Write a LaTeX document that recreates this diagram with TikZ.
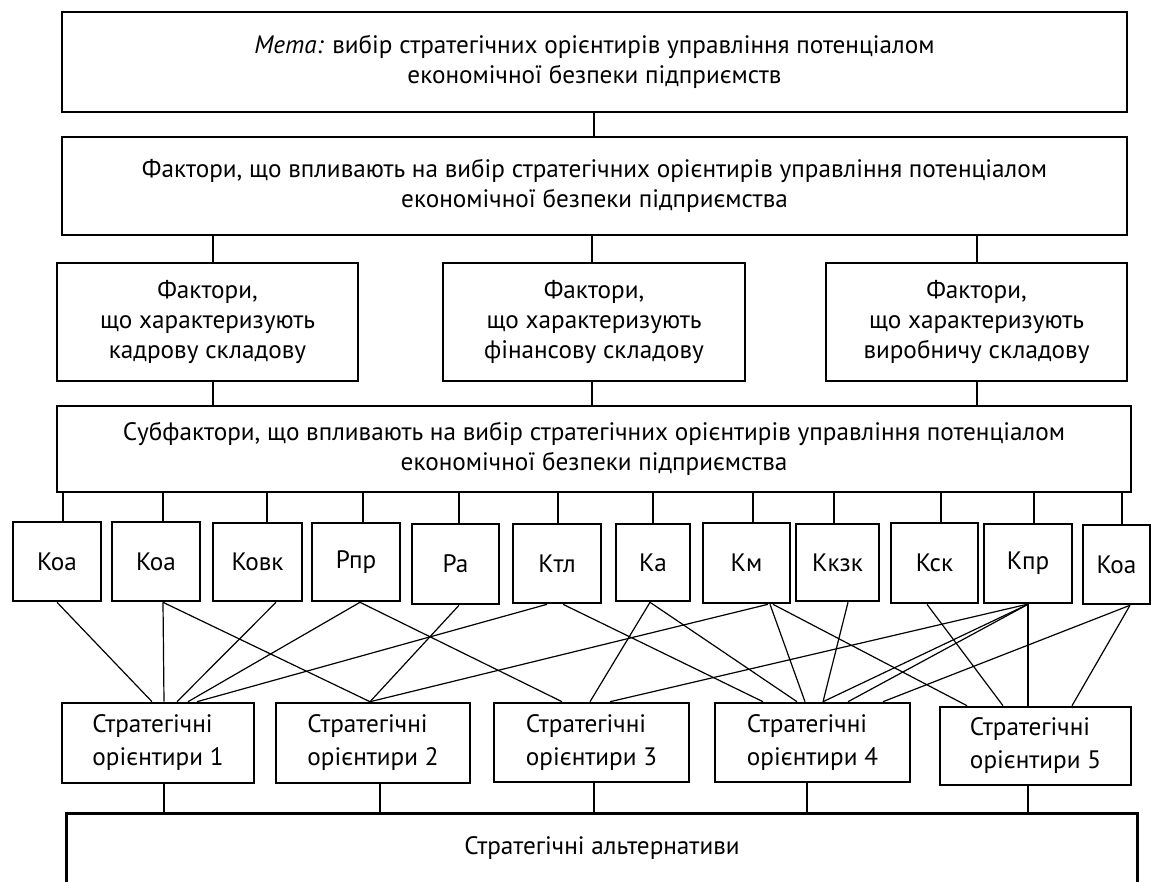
\documentclass[tikz,border=0pt]{standalone}
\usepackage{fontspec}
\setmainfont{PT Sans}
\begin{document}
\begin{tikzpicture}[x=1pt,y=-1pt,
  box/.style={draw, line width=2.6pt, inner sep=0pt, align=center, font=\fontsize{25.2}{30}\selectfont},
  sbox/.style={box, align=left, font=\fontsize{25.2}{33}\selectfont},
  link/.style={line width=1.2pt},
  boxline/.style={line width=2.6pt}]
\useasboundingbox (0,0) rectangle (1158,881);
% top boxes
\node[box, minimum width=1065pt, minimum height=100pt] (goal) at (594.5,62)
  {{\itshape Мета:} вибір стратегічних орієнтирів управління потенціалом\\економічної безпеки підприємств};
\node[box, minimum width=1065pt, minimum height=98pt] (fac) at (594.5,186)
  {Фактори, що впливають на вибір стратегічних орієнтирів управління потенціалом\\економічної безпеки підприємства};
\node[box, minimum width=301pt, minimum height=118pt] (fk) at (207.5,322)
  {Фактори,\\що характеризують\\кадрову складову};
\node[box, minimum width=302pt, minimum height=118pt] (ff) at (594,322)
  {Фактори,\\що характеризують\\фінансову складову};
\node[box, minimum width=301pt, minimum height=118pt] (fp) at (976.5,322)
  {Фактори,\\що характеризують\\виробничу складову};
\node[box, minimum width=1074pt, minimum height=86pt] (sub) at (594,449)
  {Субфактори, що впливають на вибір стратегічних орієнтирів управління потенціалом\\економічної безпеки підприємства};
% small boxes
\node[box, minimum width=88pt, minimum height=79pt] (kA) at (57,561.5) {Коа};
\node[box, minimum width=88pt, minimum height=79pt] (kB) at (156,561.5) {Коа};
\node[box, minimum width=89pt, minimum height=78pt] (kC) at (257.5,562) {Ковк};
\node[box, minimum width=88pt, minimum height=78pt] (kD) at (356,562) {Рпр};
\node[box, minimum width=87pt, minimum height=80pt] (kE) at (455.5,564) {Ра};
\node[box, minimum width=88pt, minimum height=79pt] (kF) at (557,563.5) {Ктл};
\node[box, minimum width=74pt, minimum height=77pt] (kG) at (653,562.5) {Ка};
\node[box, minimum width=87pt, minimum height=80pt] (kH) at (746.5,563) {Км};
\node[box, minimum width=83pt, minimum height=77pt] (kI) at (837.5,562.5) {Ккзк};
\node[box, minimum width=87pt, minimum height=80pt] (kJ) at (934.5,563) {Кск};
\node[box, minimum width=88pt, minimum height=79pt] (kK) at (1028,563.5) {Кпр};
\node[box, minimum width=67pt, minimum height=79pt] (kL) at (1116.5,564.5) {Коа};
% strategic boxes
\node[sbox, minimum width=192pt, minimum height=80pt] (s1) at (158,743) {Стратегічні\\орієнтири 1};
\node[sbox, minimum width=194pt, minimum height=80pt] (s2) at (373,743) {Стратегічні\\орієнтири 2};
\node[sbox, minimum width=195pt, minimum height=79pt] (s3) at (591.5,742.5) {Стратегічні\\орієнтири 3};
\node[sbox, minimum width=195pt, minimum height=79pt] (s4) at (812.5,742.5) {Стратегічні\\орієнтири 4};
\node[sbox, minimum width=191pt, minimum height=78pt] (s5) at (1035.5,746) {Стратегічні\\орієнтири 5};
% bottom (open) box
\node[box, draw=none, minimum width=1068pt, minimum height=66pt] (alt) at (602,848) {Стратегічні альтернативи};
\draw[boxline] (alt.south west) -- (alt.north west) -- (alt.north east) -- (alt.south east);
% vertical connectors
\draw[link] (594,0 |- goal.south) -- (594,0 |- fac.north);
\draw[link] (213,0 |- fac.south) -- (213,0 |- fk.north);
\draw[link] (592,0 |- fac.south) -- (592,0 |- ff.north);
\draw[link] (977,0 |- fac.south) -- (977,0 |- fp.north);
\draw[link] (213,0 |- fk.south) -- (213,0 |- sub.north);
\draw[link] (592,0 |- ff.south) -- (592,0 |- sub.north);
\draw[link] (977,0 |- fp.south) -- (977,0 |- sub.north);
\foreach \n/\x in {kA/63,kB/163,kC/267,kD/363,kE/459,kF/558,kG/653,kH/753,kI/834,kJ/941,kK/1034,kL/1122}
  \draw[link] (\x,0 |- sub.south) -- (\x,0 |- \n.north);
\foreach \n/\x in {s1/164,s2/380,s3/594,s4/807,s5/1028}
  \draw[link] (\x,0 |- \n.south) -- (\x,0 |- alt.north);
% cross connectors
\foreach \a/\xa/\b/\xb in {
  kA/57/s1/152, kB/163/s1/164, kB/163/s2/370, kC/276/s1/177, kD/360/s1/188,
  kD/360/s3/562, kF/547/s1/197, kE/459/s2/370, kH/768/s2/370, kF/563/s4/763,
  kG/650/s3/590, kG/650/s4/797, kK/1027/s3/610, kH/770/s4/805, kH/773/s5/967,
  kI/848/s4/823, kJ/927/s5/1003, kK/1028/s4/823, kK/1028/s4/848, kK/1028/s5/1028,
  kL/1130/s4/883, kL/1130/s5/1072}
  \draw[link] (\xa,0 |- \a.south) -- (\xb,0 |- \b.north);
\end{tikzpicture}
\end{document}
